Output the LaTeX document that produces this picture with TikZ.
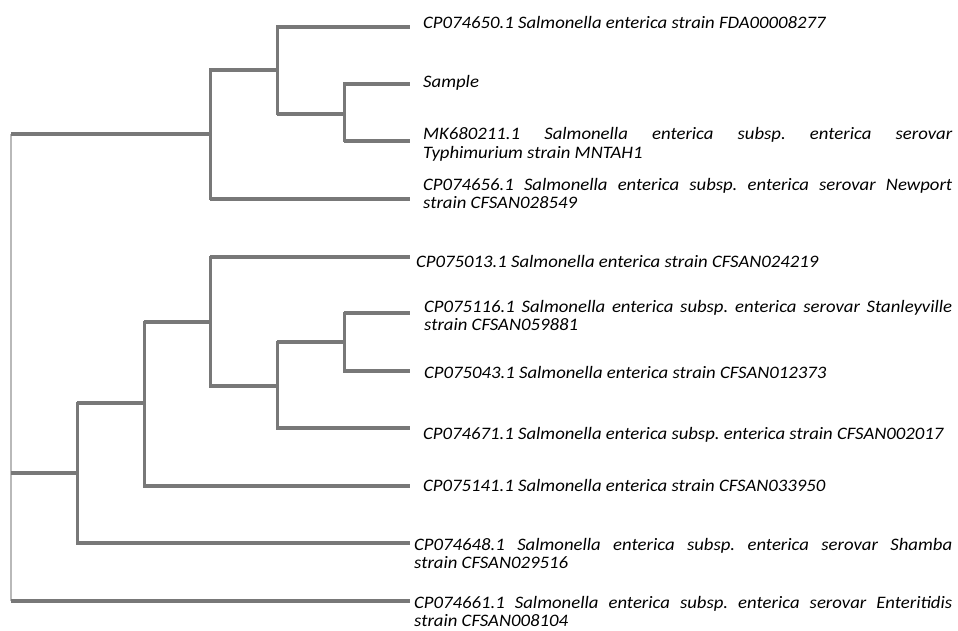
\documentclass[tikz,border=0pt]{standalone}
\usepackage{fontspec}
\setmainfont{Carlito}[ItalicFont={Carlito Italic},FakeStretch=1.07]
\frenchspacing
\definecolor{branch}{RGB}{120,120,120}
\definecolor{rootc}{RGB}{185,185,185}
\begin{document}
\begin{tikzpicture}[x=1pt,y=-1pt,
  hbranch/.style={draw=branch,line width=4.5pt},
  vbranch/.style={draw=branch,line width=3pt,line cap=rect},
  rootline/.style={draw=rootc,line width=2pt},
  leaf/.style={anchor=base west,inner sep=0pt,font=\fontsize{17.5}{18.5}\selectfont\itshape,align=left},
  leafj/.style={leaf,text width=#1,align=justify}]
\useasboundingbox (0,0) rectangle (958,631);

% leaf tips
\coordinate (t1) at (410,27);
\coordinate (t2) at (410,84);
\coordinate (t3) at (410,141);
\coordinate (t4) at (410,199);
\coordinate (t5) at (410,257);
\coordinate (t6) at (410,313);
\coordinate (t7) at (410,371);
\coordinate (t8) at (410,428);
\coordinate (t9) at (410,486);
\coordinate (t10) at (410,543);
\coordinate (t11) at (410,601);

% internal nodes (x, y of the line that joins them to their parent)
\coordinate (R) at (11,134);
\coordinate (A) at (210,134);
\coordinate (A1) at (277,70);
\coordinate (A2) at (344,114);
\coordinate (B) at (77,473);
\coordinate (B1) at (144,403);
\coordinate (B2) at (210,322);
\coordinate (B3) at (277,386);
\coordinate (B4) at (344,342);

% labels
\node[leaf] (l1) at (423,29) {CP074650.1 Salmonella enterica strain FDA00008277};
\node[leaf] (l2) at (423,88) {Sample};
\node[leafj=529pt] (l3) at (423,140) {MK680211.1 Salmonella enterica subsp. enterica serovar\linebreak Typhimurium strain MNTAH1};
\node[leafj=529pt] (l4) at (423,190) {CP074656.1 Salmonella enterica subsp. enterica serovar Newport\linebreak strain CFSAN028549};
\node[leaf] (l5) at (416,267) {CP075013.1 Salmonella enterica strain CFSAN024219};
\node[leafj=528pt] (l6) at (424,312) {CP075116.1 Salmonella enterica subsp. enterica serovar Stanleyville\linebreak strain CFSAN059881};
\node[leaf] (l7) at (424,378) {CP075043.1 Salmonella enterica strain CFSAN012373};
\node[leaf] (l8) at (423,439) {CP074671.1 Salmonella enterica subsp. enterica strain CFSAN002017};
\node[leaf] (l9) at (423,491) {CP075141.1 Salmonella enterica strain CFSAN033950};
\node[leafj=538pt] (l10) at (414,550) {CP074648.1 Salmonella enterica subsp. enterica serovar Shamba\linebreak strain CFSAN029516};
\node[leafj=538pt] (l11) at (414,608) {CP074661.1 Salmonella enterica subsp. enterica serovar Enteritidis\linebreak strain CFSAN008104};

% root
\draw[rootline] (R) -- (R |- t11);
\draw[hbranch] (R) -- (A);
\draw[hbranch] (R |- B) -- (B);
\draw[hbranch] (R |- t11) -- (t11);

% clade A
\draw[vbranch] (A |- A1) -- (A |- t4);
\draw[hbranch] (A |- A1) -- (A1);
\draw[hbranch] (A |- t4) -- (t4);
\draw[vbranch] (A1 |- t1) -- (A1 |- A2);
\draw[hbranch] (A1 |- t1) -- (t1);
\draw[hbranch] (A1 |- A2) -- (A2);
\draw[vbranch] (A2 |- t2) -- (A2 |- t3);
\draw[hbranch] (A2 |- t2) -- (t2);
\draw[hbranch] (A2 |- t3) -- (t3);

% clade B
\draw[vbranch] (B |- B1) -- (B |- t10);
\draw[hbranch] (B |- B1) -- (B1);
\draw[hbranch] (B |- t10) -- (t10);
\draw[vbranch] (B1 |- B2) -- (B1 |- t9);
\draw[hbranch] (B1 |- B2) -- (B2);
\draw[hbranch] (B1 |- t9) -- (t9);
\draw[vbranch] (B2 |- t5) -- (B2 |- B3);
\draw[hbranch] (B2 |- t5) -- (t5);
\draw[hbranch] (B2 |- B3) -- (B3);
\draw[vbranch] (B3 |- B4) -- (B3 |- t8);
\draw[hbranch] (B3 |- B4) -- (B4);
\draw[hbranch] (B3 |- t8) -- (t8);
\draw[vbranch] (B4 |- t6) -- (B4 |- t7);
\draw[hbranch] (B4 |- t6) -- (t6);
\draw[hbranch] (B4 |- t7) -- (t7);
\end{tikzpicture}
\end{document}
